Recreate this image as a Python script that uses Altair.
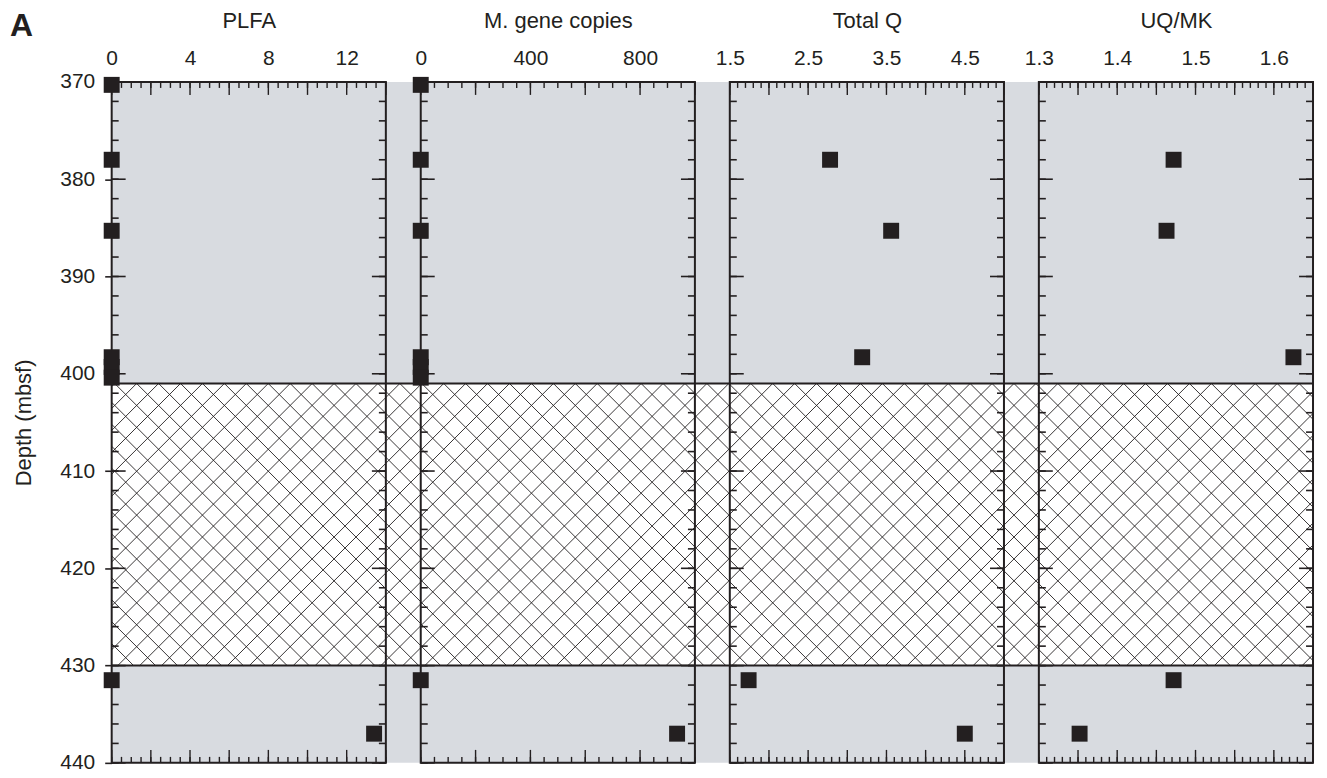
import altair as alt
import numpy as np
import pandas as pd

# ---------------- data ----------------
depth_all = [370.3, 378.0, 385.3, 398.3, 399.3, 400.4, 431.5, 437.0]
plfa = [0, 0, 0, 0, 0, 0, 0, 13.4]
gene_copies = [0, 0, 0, 0, 0, 0, 0, 935]
depth_q = [378.0, 385.3, 398.3, 431.5, 437.0]
total_q = [2.78, 3.56, 3.19, 1.74, 4.50]
uq_mk = [1.472, 1.463, 1.625, 1.472, 1.352]

gap_top, gap_bottom = 401.0, 430.0          # hatched (no-recovery) interval
depth_domain = [370, 440]

panel_titles = ["PLFA", "M. gene copies", "Total Q", "UQ/MK"]
x_domains = [[0, 14], [0, 1000], [1.5, 5.0], [1.3, 1.65]]
x_labels = [[0, 4, 8, 12], [0, 400, 800], [1.5, 2.5, 3.5, 4.5], [1.3, 1.4, 1.5, 1.6]]
x_minor_step = [0.5, 50, 0.1, 0.01]
x_major_step = [2, 200, 0.5, 0.05]
x_formats = ["d", "d", ".1f", ".1f"]
y_labels = [370, 380, 390, 400, 410, 420, 430, 440]
y_minor_step = 2

# ---------------- layout / style ----------------
W, H, GAP = 275, 683, 35
TOT = 4 * W + 3 * GAP
INK = "#231f20"
GRAY = "#d8dbe0"
FONT = "Liberation Sans"

panel_data = [
    pd.DataFrame({"depth": depth_all, "val": plfa}),
    pd.DataFrame({"depth": depth_all, "val": gene_copies}),
    pd.DataFrame({"depth": depth_q, "val": total_q}),
    pd.DataFrame({"depth": depth_q, "val": uq_mk}),
]

yscale = alt.Scale(domain=depth_domain, reverse=True, nice=False, zero=False)


def arange(a, b, s):
    n = int(round((b - a) / s))
    return [round(a + i * s, 5) for i in range(n + 1)]


def hatch_frame():
    """Cross-hatch pattern for the unrecovered interval, expressed in
    panel-1 scale units so it spans all panels and the gaps between them."""
    ya = (gap_top - depth_domain[0]) / (depth_domain[1] - depth_domain[0]) * H
    yb = (gap_bottom - depth_domain[0]) / (depth_domain[1] - depth_domain[0]) * H
    h = yb - ya
    step = 22.0
    segs = []
    for sign in (1, -1):
        c = -h - step * 3
        while c < TOT + h + step * 3:
            x1, y1 = c, ya
            x2, y2 = c + sign * h, yb
            t0, t1 = 0.0, 1.0
            dx = x2 - x1
            for bound in (0.0, TOT):
                t = (bound - x1) / dx
                if (dx > 0) == (bound == 0.0):
                    t0 = max(t0, t)
                else:
                    t1 = min(t1, t)
            if t1 > t0:
                segs.append((x1 + dx * t0, y1 + (y2 - y1) * t0,
                             x1 + dx * t1, y1 + (y2 - y1) * t1))
            c += step
    d0, d1 = x_domains[0]
    rows = []
    for sx1, sy1, sx2, sy2 in segs:
        rows.append({
            "hx": d0 + sx1 / W * (d1 - d0),
            "hx2": d0 + sx2 / W * (d1 - d0),
            "hy": depth_domain[0] + sy1 / H * (depth_domain[1] - depth_domain[0]),
            "hy2": depth_domain[0] + sy2 / H * (depth_domain[1] - depth_domain[0]),
        })
    return pd.DataFrame(rows)


one = pd.DataFrame({"k": [0]})


def make_panel(i):
    xs = alt.Scale(domain=x_domains[i], nice=False, zero=False)
    top_axis = alt.Axis(
        orient="top", values=x_labels[i], format=x_formats[i],
        ticks=False, tickSize=0, domain=False, grid=False,
        labelFlush=False, labelOverlap=False,
        labelFontSize=21, labelPadding=13, labelColor=INK, labelFont=FONT,
        title=panel_titles[i], titleFontSize=22, titleFontWeight="normal",
        titleColor=INK, titleFont=FONT, titlePadding=16,
    )
    if i == 0:
        left_axis = alt.Axis(
            orient="left", values=y_labels, format="d",
            ticks=True, tickSize=7, tickWidth=1.6, tickColor=INK,
            domain=False, grid=False,
            labelFontSize=21, labelPadding=10, labelColor=INK, labelFont=FONT,
            title="Depth (mbsf)", titleFontSize=22, titleFontWeight="normal",
            titleColor=INK, titleFont=FONT, titlePadding=24,
        )
    else:
        left_axis = None

    def X(field):
        return alt.X(field, scale=xs, axis=top_axis)

    def Y(field):
        return alt.Y(field, scale=yscale, axis=left_axis)

    layers = []

    if i == 0:
        bands = pd.DataFrame({"top": [depth_domain[0], gap_bottom],
                              "bot": [gap_top, depth_domain[1]]})
        layers.append(
            alt.Chart(bands).mark_rect(color=GRAY).encode(
                y=Y("top:Q"), y2="bot:Q",
                x=alt.value(0), x2=alt.value(TOT),
            )
        )
        layers.append(
            alt.Chart(hatch_frame()).mark_rule(color=INK, strokeWidth=0.9).encode(
                x=X("hx:Q"), x2="hx2:Q",
                y=Y("hy:Q"), y2="hy2:Q",
            )
        )
        bounds_df = pd.DataFrame({"d": [gap_top, gap_bottom]})
        layers.append(
            alt.Chart(bounds_df).mark_rule(color=INK, strokeWidth=2).encode(
                y=Y("d:Q"), x=alt.value(0), x2=alt.value(TOT),
            )
        )

    d0, d1 = x_domains[i]
    minor_x = pd.DataFrame({"v": arange(d0, d1, x_minor_step[i])})
    major_x = pd.DataFrame({"v": arange(d0, d1, x_major_step[i])})
    minor_y = pd.DataFrame({"d": arange(depth_domain[0], depth_domain[1], y_minor_step)})
    major_y = pd.DataFrame({"d": y_labels})

    for df, ln in ((minor_x, 6), (major_x, 13)):
        layers.append(alt.Chart(df).mark_rule(color=INK, strokeWidth=1.4).encode(
            x=X("v:Q"), y=alt.value(0), y2=alt.value(ln)))
        layers.append(alt.Chart(df).mark_rule(color=INK, strokeWidth=1.4).encode(
            x=X("v:Q"), y=alt.value(H), y2=alt.value(H - ln)))
    for df, ln in ((minor_y, 7), (major_y, 14)):
        layers.append(alt.Chart(df).mark_rule(color=INK, strokeWidth=1.6).encode(
            y=Y("d:Q"), x=alt.value(0), x2=alt.value(ln)))
        layers.append(alt.Chart(df).mark_rule(color=INK, strokeWidth=1.6).encode(
            y=Y("d:Q"), x=alt.value(W), x2=alt.value(W - ln)))

    layers.append(
        alt.Chart(one).mark_rect(fill="transparent", stroke=INK, strokeWidth=2).encode(
            x=alt.value(0), x2=alt.value(W), y=alt.value(0), y2=alt.value(H))
    )

    layers.append(
        alt.Chart(panel_data[i]).mark_square(size=256, color=INK, opacity=1).encode(
            x=X("val:Q"), y=Y("depth:Q"),
        )
    )

    if i == 0:
        layers.append(
            alt.Chart(one).mark_text(text="A", fontSize=32, fontWeight="bold",
                                     align="left", baseline="alphabetic",
                                     font=FONT, color=INK).encode(
                x=alt.value(-102), y=alt.value(-46.5))
        )

    return alt.layer(*layers).properties(width=W, height=H)


chart = alt.hconcat(*[make_panel(i) for i in range(4)], spacing=GAP, bounds="flush").properties(
    padding={"left": 2, "top": 0, "right": 5, "bottom": 0},
    background="white",
).configure_view(strokeWidth=0)

chart.save("out.html", embed_options={"renderer": "svg", "actions": False})
